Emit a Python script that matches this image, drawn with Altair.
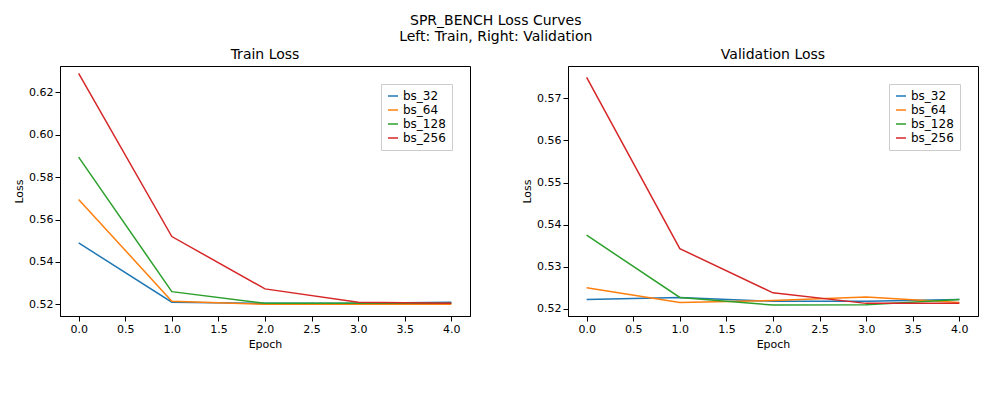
import altair as alt
import pandas as pd

epochs = [0, 1, 2, 3, 4]
series = ["bs_32", "bs_64", "bs_128", "bs_256"]
colors = ["#1f77b4", "#ff7f0e", "#2ca02c", "#d62728"]
train = {
    "bs_32": [0.549, 0.521, 0.5205, 0.5205, 0.521],
    "bs_64": [0.5695, 0.5215, 0.520, 0.520, 0.520],
    "bs_128": [0.5895, 0.526, 0.5205, 0.5205, 0.5205],
    "bs_256": [0.629, 0.552, 0.5273, 0.521, 0.5205],
}
val = {
    "bs_32": [0.5222, 0.5227, 0.5218, 0.5218, 0.5222],
    "bs_64": [0.525, 0.5215, 0.522, 0.5228, 0.5215],
    "bs_128": [0.5375, 0.5227, 0.5209, 0.521, 0.5222],
    "bs_256": [0.575, 0.5343, 0.5238, 0.5213, 0.5213],
}
train_ticks = [0.52, 0.54, 0.56, 0.58, 0.60, 0.62]
val_ticks = [0.52, 0.53, 0.54, 0.55, 0.56, 0.57]

def df(d):
    return pd.DataFrame([{"Epoch": e, "Loss": v, "s": s}
                         for s in series for e, v in zip(epochs, d[s])])

def panel(d, title, dom, ticks):
    return alt.Chart(df(d)).mark_line(strokeWidth=1.5).encode(
        x=alt.X("Epoch:Q", scale=alt.Scale(domain=[-0.2, 4.2], nice=False),
                axis=alt.Axis(values=[0, 0.5, 1, 1.5, 2, 2.5, 3, 3.5, 4], format=".1f", grid=False)),
        y=alt.Y("Loss:Q", scale=alt.Scale(domain=dom, nice=False, zero=False),
                axis=alt.Axis(values=ticks, format=".2f", grid=False)),
        color=alt.Color("s:N", scale=alt.Scale(domain=series, range=colors),
                        legend=alt.Legend(title=None, orient="top-right", fillColor="white",
                                          strokeColor="#ccc", padding=6, symbolType="stroke", labelFontSize=12)),
    ).properties(width=410, height=250, title=alt.Title(title, fontSize=14, fontWeight="normal"))

left = panel(train, "Train Loss", [0.5145, 0.6325], train_ticks)
right = panel(val, "Validation Loss", [0.5183, 0.5777], val_ticks)

chart = alt.hconcat(left, right, spacing=50).resolve_legend(color="independent").properties(
    title=alt.Title(["SPR_BENCH Loss Curves", "Left: Train, Right: Validation"],
                    anchor="middle", fontSize=14, fontWeight="normal")
).configure(font="DejaVu Sans").configure_view(stroke="black").configure_axis(
    domainColor="black", tickColor="black", labelColor="black", titleColor="black",
    titleFontWeight="normal", labelFontSize=11, titleFontSize=11
)

chart.save("out.html", embed_options={"renderer": "svg", "actions": False})
